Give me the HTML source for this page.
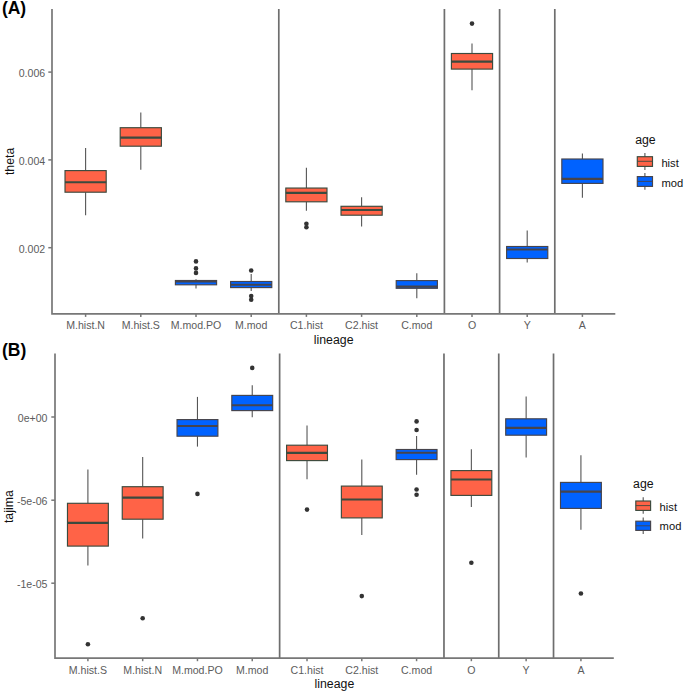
<!DOCTYPE html>
<html><head><meta charset="utf-8"><title>theta / tajima boxplots</title>
<style>
html,body{margin:0;padding:0;background:#fff;}
body{width:685px;height:693px;overflow:hidden;}
svg{display:block;}
text{font-family:"Liberation Sans",sans-serif;}
.ax{font-size:10.6px;fill:#5c5c5c;}
.tt{font-size:12.3px;fill:#111;}
.lg{font-size:11.2px;fill:#111;}
.tag{font-size:17.5px;font-weight:bold;fill:#000;}
</style></head>
<body>
<svg width="685" height="693" viewBox="0 0 685 693">
<rect width="685" height="693" fill="#fff"/>
<line x1="278.8" y1="9" x2="278.8" y2="313.9" stroke="#6e6e6e" stroke-width="1.7"/>
<line x1="444.4" y1="9" x2="444.4" y2="313.9" stroke="#6e6e6e" stroke-width="1.7"/>
<line x1="499.6" y1="9" x2="499.6" y2="313.9" stroke="#6e6e6e" stroke-width="1.7"/>
<line x1="554.8" y1="9" x2="554.8" y2="313.9" stroke="#6e6e6e" stroke-width="1.7"/>
<line x1="85.6" y1="147.9" x2="85.6" y2="170.6" stroke="#555555" stroke-width="1.1"/>
<line x1="85.6" y1="192.2" x2="85.6" y2="215.3" stroke="#555555" stroke-width="1.1"/>
<rect x="65.01" y="170.6" width="41.18" height="21.6" fill="#FF6347" stroke="#3c4a3e" stroke-width="1.15"/>
<line x1="65.01" y1="182.3" x2="106.19" y2="182.3" stroke="#3c4a3e" stroke-width="2.1"/>
<line x1="140.8" y1="112.5" x2="140.8" y2="127.7" stroke="#555555" stroke-width="1.1"/>
<line x1="140.8" y1="146.2" x2="140.8" y2="169.8" stroke="#555555" stroke-width="1.1"/>
<rect x="120.21" y="127.7" width="41.18" height="18.5" fill="#FF6347" stroke="#3c4a3e" stroke-width="1.15"/>
<line x1="120.21" y1="137.6" x2="161.39" y2="137.6" stroke="#3c4a3e" stroke-width="2.1"/>
<line x1="196" y1="279.3" x2="196" y2="280.5" stroke="#555555" stroke-width="1.1"/>
<line x1="196" y1="284.8" x2="196" y2="288.5" stroke="#555555" stroke-width="1.1"/>
<rect x="175.41" y="280.5" width="41.18" height="4.3" fill="#0062FF" stroke="#46444c" stroke-width="1.15"/>
<line x1="175.41" y1="281.5" x2="216.59" y2="281.5" stroke="#46444c" stroke-width="2.1"/>
<circle cx="196" cy="261.4" r="2.3" fill="#333"/>
<circle cx="196" cy="268.4" r="2.3" fill="#333"/>
<circle cx="196" cy="272.9" r="2.3" fill="#333"/>
<line x1="251.2" y1="274" x2="251.2" y2="281.5" stroke="#555555" stroke-width="1.1"/>
<line x1="251.2" y1="287.6" x2="251.2" y2="291.1" stroke="#555555" stroke-width="1.1"/>
<rect x="230.61" y="281.5" width="41.18" height="6.1" fill="#0062FF" stroke="#46444c" stroke-width="1.15"/>
<line x1="230.61" y1="284.8" x2="271.79" y2="284.8" stroke="#46444c" stroke-width="2.1"/>
<circle cx="251.2" cy="270.5" r="2.3" fill="#333"/>
<circle cx="251.2" cy="296.1" r="2.3" fill="#333"/>
<circle cx="251.2" cy="299.8" r="2.3" fill="#333"/>
<line x1="306.4" y1="167.85" x2="306.4" y2="188.05" stroke="#555555" stroke-width="1.1"/>
<line x1="306.4" y1="201.8" x2="306.4" y2="210.8" stroke="#555555" stroke-width="1.1"/>
<rect x="285.81" y="188.05" width="41.18" height="13.75" fill="#FF6347" stroke="#3c4a3e" stroke-width="1.15"/>
<line x1="285.81" y1="192.9" x2="326.99" y2="192.9" stroke="#3c4a3e" stroke-width="2.1"/>
<circle cx="306.4" cy="223.8" r="2.3" fill="#333"/>
<circle cx="306.4" cy="227.2" r="2.3" fill="#333"/>
<line x1="361.6" y1="197.3" x2="361.6" y2="206.3" stroke="#555555" stroke-width="1.1"/>
<line x1="361.6" y1="215.2" x2="361.6" y2="226.4" stroke="#555555" stroke-width="1.1"/>
<rect x="341.01" y="206.3" width="41.18" height="8.9" fill="#FF6347" stroke="#3c4a3e" stroke-width="1.15"/>
<line x1="341.01" y1="210" x2="382.19" y2="210" stroke="#3c4a3e" stroke-width="2.1"/>
<line x1="416.8" y1="273.2" x2="416.8" y2="280.6" stroke="#555555" stroke-width="1.1"/>
<line x1="416.8" y1="288.3" x2="416.8" y2="298.2" stroke="#555555" stroke-width="1.1"/>
<rect x="396.21" y="280.6" width="41.18" height="7.7" fill="#0062FF" stroke="#46444c" stroke-width="1.15"/>
<line x1="396.21" y1="286.6" x2="437.39" y2="286.6" stroke="#46444c" stroke-width="2.1"/>
<line x1="472" y1="43.5" x2="472" y2="53.5" stroke="#555555" stroke-width="1.1"/>
<line x1="472" y1="69.1" x2="472" y2="90.3" stroke="#555555" stroke-width="1.1"/>
<rect x="451.41" y="53.5" width="41.18" height="15.6" fill="#FF6347" stroke="#3c4a3e" stroke-width="1.15"/>
<line x1="451.41" y1="61.6" x2="492.59" y2="61.6" stroke="#3c4a3e" stroke-width="2.1"/>
<circle cx="472" cy="23.6" r="2.3" fill="#333"/>
<line x1="527.2" y1="230.5" x2="527.2" y2="246.5" stroke="#555555" stroke-width="1.1"/>
<line x1="527.2" y1="258.5" x2="527.2" y2="262.6" stroke="#555555" stroke-width="1.1"/>
<rect x="506.61" y="246.5" width="41.18" height="12" fill="#0062FF" stroke="#46444c" stroke-width="1.15"/>
<line x1="506.61" y1="249.5" x2="547.79" y2="249.5" stroke="#46444c" stroke-width="2.1"/>
<line x1="582.4" y1="153.6" x2="582.4" y2="159" stroke="#555555" stroke-width="1.1"/>
<line x1="582.4" y1="183.4" x2="582.4" y2="197.8" stroke="#555555" stroke-width="1.1"/>
<rect x="561.81" y="159" width="41.18" height="24.4" fill="#0062FF" stroke="#46444c" stroke-width="1.15"/>
<line x1="561.81" y1="178.9" x2="602.99" y2="178.9" stroke="#46444c" stroke-width="2.1"/>
<path d="M52 9V313.9H615.3" fill="none" stroke="#777777" stroke-width="1.7"/>
<line x1="85.6" y1="313.9" x2="85.6" y2="316.9" stroke="#777777" stroke-width="1.5"/>
<text x="85.6" y="329.3" text-anchor="middle" class="ax">M.hist.N</text>
<line x1="140.8" y1="313.9" x2="140.8" y2="316.9" stroke="#777777" stroke-width="1.5"/>
<text x="140.8" y="329.3" text-anchor="middle" class="ax">M.hist.S</text>
<line x1="196" y1="313.9" x2="196" y2="316.9" stroke="#777777" stroke-width="1.5"/>
<text x="196" y="329.3" text-anchor="middle" class="ax">M.mod.PO</text>
<line x1="251.2" y1="313.9" x2="251.2" y2="316.9" stroke="#777777" stroke-width="1.5"/>
<text x="251.2" y="329.3" text-anchor="middle" class="ax">M.mod</text>
<line x1="306.4" y1="313.9" x2="306.4" y2="316.9" stroke="#777777" stroke-width="1.5"/>
<text x="306.4" y="329.3" text-anchor="middle" class="ax">C1.hist</text>
<line x1="361.6" y1="313.9" x2="361.6" y2="316.9" stroke="#777777" stroke-width="1.5"/>
<text x="361.6" y="329.3" text-anchor="middle" class="ax">C2.hist</text>
<line x1="416.8" y1="313.9" x2="416.8" y2="316.9" stroke="#777777" stroke-width="1.5"/>
<text x="416.8" y="329.3" text-anchor="middle" class="ax">C.mod</text>
<line x1="472" y1="313.9" x2="472" y2="316.9" stroke="#777777" stroke-width="1.5"/>
<text x="472" y="329.3" text-anchor="middle" class="ax">O</text>
<line x1="527.2" y1="313.9" x2="527.2" y2="316.9" stroke="#777777" stroke-width="1.5"/>
<text x="527.2" y="329.3" text-anchor="middle" class="ax">Y</text>
<line x1="582.4" y1="313.9" x2="582.4" y2="316.9" stroke="#777777" stroke-width="1.5"/>
<text x="582.4" y="329.3" text-anchor="middle" class="ax">A</text>
<line x1="48.3" y1="72.1" x2="52" y2="72.1" stroke="#777777" stroke-width="1.5"/>
<text x="45.2" y="77.2" text-anchor="end" class="ax">0.006</text>
<line x1="48.3" y1="159.9" x2="52" y2="159.9" stroke="#777777" stroke-width="1.5"/>
<text x="45.2" y="165" text-anchor="end" class="ax">0.004</text>
<line x1="48.3" y1="247.7" x2="52" y2="247.7" stroke="#777777" stroke-width="1.5"/>
<text x="45.2" y="252.8" text-anchor="end" class="ax">0.002</text>
<text x="333.65" y="343.6" text-anchor="middle" class="tt">lineage</text>
<text transform="translate(14.2 161.45) rotate(-90)" text-anchor="middle" class="tt">theta</text>
<text x="1.9" y="14" class="tag">(A)</text>
<text x="635.2" y="143.7" class="tt">age</text>
<line x1="644.9" y1="152.9" x2="644.9" y2="169.9" stroke="#555555" stroke-width="1.1"/>
<rect x="637.3" y="156.7" width="15.2" height="9.7" fill="#FF6347" stroke="#3c4a3e" stroke-width="1.15"/>
<line x1="637.3" y1="161.3" x2="652.5" y2="161.3" stroke="#3c4a3e" stroke-width="0.9"/>
<text x="661.4" y="166.8" class="lg">hist</text>
<line x1="644.9" y1="173.1" x2="644.9" y2="189.8" stroke="#555555" stroke-width="1.1"/>
<rect x="637.3" y="176.6" width="15.2" height="9.8" fill="#0062FF" stroke="#46444c" stroke-width="1.15"/>
<line x1="637.3" y1="181.4" x2="652.5" y2="181.4" stroke="#46444c" stroke-width="0.9"/>
<text x="661.4" y="186.6" class="lg">mod</text>
<line x1="279.63" y1="353.5" x2="279.63" y2="658.2" stroke="#6e6e6e" stroke-width="1.7"/>
<line x1="443.97" y1="353.5" x2="443.97" y2="658.2" stroke="#6e6e6e" stroke-width="1.7"/>
<line x1="498.75" y1="353.5" x2="498.75" y2="658.2" stroke="#6e6e6e" stroke-width="1.7"/>
<line x1="553.53" y1="353.5" x2="553.53" y2="658.2" stroke="#6e6e6e" stroke-width="1.7"/>
<line x1="87.9" y1="469.5" x2="87.9" y2="503.3" stroke="#555555" stroke-width="1.1"/>
<line x1="87.9" y1="546.1" x2="87.9" y2="565.6" stroke="#555555" stroke-width="1.1"/>
<rect x="67.47" y="503.3" width="40.87" height="42.8" fill="#FF6347" stroke="#3c4a3e" stroke-width="1.15"/>
<line x1="67.47" y1="522.9" x2="108.33" y2="522.9" stroke="#3c4a3e" stroke-width="2.1"/>
<circle cx="87.9" cy="644.2" r="2.3" fill="#333"/>
<line x1="142.68" y1="456.9" x2="142.68" y2="486.7" stroke="#555555" stroke-width="1.1"/>
<line x1="142.68" y1="519.2" x2="142.68" y2="538.5" stroke="#555555" stroke-width="1.1"/>
<rect x="122.25" y="486.7" width="40.87" height="32.5" fill="#FF6347" stroke="#3c4a3e" stroke-width="1.15"/>
<line x1="122.25" y1="497.6" x2="163.11" y2="497.6" stroke="#3c4a3e" stroke-width="2.1"/>
<circle cx="142.68" cy="618.2" r="2.3" fill="#333"/>
<line x1="197.46" y1="396.9" x2="197.46" y2="419.6" stroke="#555555" stroke-width="1.1"/>
<line x1="197.46" y1="436.2" x2="197.46" y2="446.6" stroke="#555555" stroke-width="1.1"/>
<rect x="177.03" y="419.6" width="40.87" height="16.6" fill="#0062FF" stroke="#46444c" stroke-width="1.15"/>
<line x1="177.03" y1="426" x2="217.89" y2="426" stroke="#46444c" stroke-width="2.1"/>
<circle cx="197.46" cy="493.9" r="2.3" fill="#333"/>
<line x1="252.24" y1="385.2" x2="252.24" y2="395.4" stroke="#555555" stroke-width="1.1"/>
<line x1="252.24" y1="410.6" x2="252.24" y2="417.3" stroke="#555555" stroke-width="1.1"/>
<rect x="231.81" y="395.4" width="40.87" height="15.2" fill="#0062FF" stroke="#46444c" stroke-width="1.15"/>
<line x1="231.81" y1="405.2" x2="272.67" y2="405.2" stroke="#46444c" stroke-width="2.1"/>
<circle cx="252.24" cy="367.9" r="2.3" fill="#333"/>
<line x1="307.02" y1="425.6" x2="307.02" y2="445.2" stroke="#555555" stroke-width="1.1"/>
<line x1="307.02" y1="460.6" x2="307.02" y2="479.3" stroke="#555555" stroke-width="1.1"/>
<rect x="286.59" y="445.2" width="40.87" height="15.4" fill="#FF6347" stroke="#3c4a3e" stroke-width="1.15"/>
<line x1="286.59" y1="452.9" x2="327.45" y2="452.9" stroke="#3c4a3e" stroke-width="2.1"/>
<circle cx="307.02" cy="509.6" r="2.3" fill="#333"/>
<line x1="361.8" y1="459.4" x2="361.8" y2="486.1" stroke="#555555" stroke-width="1.1"/>
<line x1="361.8" y1="517.9" x2="361.8" y2="535.1" stroke="#555555" stroke-width="1.1"/>
<rect x="341.37" y="486.1" width="40.87" height="31.8" fill="#FF6347" stroke="#3c4a3e" stroke-width="1.15"/>
<line x1="341.37" y1="499.5" x2="382.23" y2="499.5" stroke="#3c4a3e" stroke-width="2.1"/>
<circle cx="361.8" cy="596.1" r="2.3" fill="#333"/>
<line x1="416.58" y1="436.1" x2="416.58" y2="449.5" stroke="#555555" stroke-width="1.1"/>
<line x1="416.58" y1="459.6" x2="416.58" y2="474.7" stroke="#555555" stroke-width="1.1"/>
<rect x="396.15" y="449.5" width="40.87" height="10.1" fill="#0062FF" stroke="#46444c" stroke-width="1.15"/>
<line x1="396.15" y1="452.7" x2="437.01" y2="452.7" stroke="#46444c" stroke-width="2.1"/>
<circle cx="416.58" cy="421.4" r="2.3" fill="#333"/>
<circle cx="416.58" cy="430" r="2.3" fill="#333"/>
<circle cx="416.58" cy="489.5" r="2.3" fill="#333"/>
<circle cx="416.58" cy="494.8" r="2.3" fill="#333"/>
<line x1="471.36" y1="449.2" x2="471.36" y2="470.6" stroke="#555555" stroke-width="1.1"/>
<line x1="471.36" y1="495.4" x2="471.36" y2="507" stroke="#555555" stroke-width="1.1"/>
<rect x="450.93" y="470.6" width="40.87" height="24.8" fill="#FF6347" stroke="#3c4a3e" stroke-width="1.15"/>
<line x1="450.93" y1="479.5" x2="491.79" y2="479.5" stroke="#3c4a3e" stroke-width="2.1"/>
<circle cx="471.36" cy="562.8" r="2.3" fill="#333"/>
<line x1="526.14" y1="396.5" x2="526.14" y2="418.8" stroke="#555555" stroke-width="1.1"/>
<line x1="526.14" y1="435.2" x2="526.14" y2="457.5" stroke="#555555" stroke-width="1.1"/>
<rect x="505.71" y="418.8" width="40.87" height="16.4" fill="#0062FF" stroke="#46444c" stroke-width="1.15"/>
<line x1="505.71" y1="427.9" x2="546.57" y2="427.9" stroke="#46444c" stroke-width="2.1"/>
<line x1="580.92" y1="455.2" x2="580.92" y2="482.4" stroke="#555555" stroke-width="1.1"/>
<line x1="580.92" y1="508.4" x2="580.92" y2="529.7" stroke="#555555" stroke-width="1.1"/>
<rect x="560.49" y="482.4" width="40.87" height="26" fill="#0062FF" stroke="#46444c" stroke-width="1.15"/>
<line x1="560.49" y1="491.6" x2="601.35" y2="491.6" stroke="#46444c" stroke-width="2.1"/>
<circle cx="580.92" cy="593.5" r="2.3" fill="#333"/>
<path d="M55 353.5V658.2H613.8" fill="none" stroke="#777777" stroke-width="1.7"/>
<line x1="87.9" y1="658.2" x2="87.9" y2="661.2" stroke="#777777" stroke-width="1.5"/>
<text x="87.9" y="673.6" text-anchor="middle" class="ax">M.hist.S</text>
<line x1="142.68" y1="658.2" x2="142.68" y2="661.2" stroke="#777777" stroke-width="1.5"/>
<text x="142.68" y="673.6" text-anchor="middle" class="ax">M.hist.N</text>
<line x1="197.46" y1="658.2" x2="197.46" y2="661.2" stroke="#777777" stroke-width="1.5"/>
<text x="197.46" y="673.6" text-anchor="middle" class="ax">M.mod.PO</text>
<line x1="252.24" y1="658.2" x2="252.24" y2="661.2" stroke="#777777" stroke-width="1.5"/>
<text x="252.24" y="673.6" text-anchor="middle" class="ax">M.mod</text>
<line x1="307.02" y1="658.2" x2="307.02" y2="661.2" stroke="#777777" stroke-width="1.5"/>
<text x="307.02" y="673.6" text-anchor="middle" class="ax">C1.hist</text>
<line x1="361.8" y1="658.2" x2="361.8" y2="661.2" stroke="#777777" stroke-width="1.5"/>
<text x="361.8" y="673.6" text-anchor="middle" class="ax">C2.hist</text>
<line x1="416.58" y1="658.2" x2="416.58" y2="661.2" stroke="#777777" stroke-width="1.5"/>
<text x="416.58" y="673.6" text-anchor="middle" class="ax">C.mod</text>
<line x1="471.36" y1="658.2" x2="471.36" y2="661.2" stroke="#777777" stroke-width="1.5"/>
<text x="471.36" y="673.6" text-anchor="middle" class="ax">O</text>
<line x1="526.14" y1="658.2" x2="526.14" y2="661.2" stroke="#777777" stroke-width="1.5"/>
<text x="526.14" y="673.6" text-anchor="middle" class="ax">Y</text>
<line x1="580.92" y1="658.2" x2="580.92" y2="661.2" stroke="#777777" stroke-width="1.5"/>
<text x="580.92" y="673.6" text-anchor="middle" class="ax">A</text>
<line x1="51.3" y1="417" x2="55" y2="417" stroke="#777777" stroke-width="1.5"/>
<text x="47.5" y="422.1" text-anchor="end" class="ax">0e+00</text>
<line x1="51.3" y1="500.2" x2="55" y2="500.2" stroke="#777777" stroke-width="1.5"/>
<text x="47.5" y="505.3" text-anchor="end" class="ax">-5e-06</text>
<line x1="51.3" y1="583.2" x2="55" y2="583.2" stroke="#777777" stroke-width="1.5"/>
<text x="47.5" y="588.3" text-anchor="end" class="ax">-1e-05</text>
<text x="334.4" y="687.9" text-anchor="middle" class="tt">lineage</text>
<text transform="translate(13 506.65) rotate(-90)" text-anchor="middle" class="tt">tajima</text>
<text x="2" y="356.1" class="tag">(B)</text>
<text x="633.1" y="487.9" class="tt">age</text>
<line x1="643.2" y1="497.2" x2="643.2" y2="513.7" stroke="#555555" stroke-width="1.1"/>
<rect x="635.8" y="501" width="14.8" height="9.4" fill="#FF6347" stroke="#3c4a3e" stroke-width="1.15"/>
<line x1="635.8" y1="505.6" x2="650.6" y2="505.6" stroke="#3c4a3e" stroke-width="0.9"/>
<text x="659.6" y="510.8" class="lg">hist</text>
<line x1="643.2" y1="517.4" x2="643.2" y2="534.1" stroke="#555555" stroke-width="1.1"/>
<rect x="635.8" y="521.2" width="14.8" height="9.2" fill="#0062FF" stroke="#46444c" stroke-width="1.15"/>
<line x1="635.8" y1="525.8" x2="650.6" y2="525.8" stroke="#46444c" stroke-width="0.9"/>
<text x="659.6" y="530.4" class="lg">mod</text>
</svg>
</body></html>
